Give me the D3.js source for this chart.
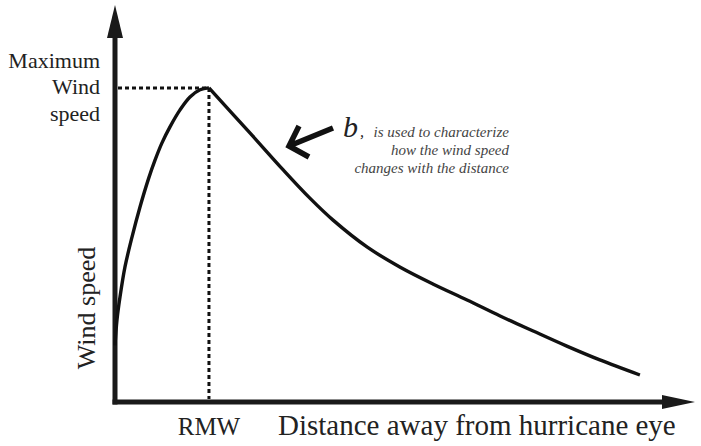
<!DOCTYPE html>
<html>
<head>
<meta charset="utf-8">
<script src="https://cdn.jsdelivr.net/npm/d3@7"></script>
<style>
  body { margin: 0; background: #fff; }
  svg { display: block; }
  text { font-family: "Liberation Serif", "Times New Roman", serif; fill: #222; }
</style>
</head>
<body>
<svg id="chart"></svg>
<script>
// wind profile (distance / speed in relative units, max = 100)
const innerDist  = [0, 0.34, 0.86, 1.72, 2.93, 4.31, 5.8, 6.9, 8.1, 9.48, 11.21, 12.93, 14.66, 16.2];
const innerSpeed = [18, 26.1, 33.4, 43.0, 52.5, 62.1, 71.2, 77.0, 82.5, 87.6, 93.0, 97.1, 99.4, 100];
const outerDist  = [16.2, 23.3, 29.0, 33.6, 37.6, 43.5, 49.1, 54.8, 60.7, 66.4, 72.1, 77.9, 83.6, 90.5];
const outerSpeed = [100, 85.6, 73.9, 64.9, 57.9, 49.3, 43.0, 37.6, 32.5, 27.4, 22.6, 17.8, 13.4, 8.6];

const rmw = 16.2;
const maxSpeed = 100;

const maxLabel = ["Maximum", "Wind", "speed"];
const noteLines = ["is used to characterize", "how the wind speed", "changes with the distance"];

const width = 701, height = 446;

const svg = d3.select("#chart").attr("width", width).attr("height", height);

const x = d3.scaleLinear().domain([0, 100]).range([115, 695]);
const y = d3.scaleLinear().domain([0, 126.4]).range([402, 5]);

const axisColor = "#1a1a1a";

// axes with arrow heads
svg.append("line")
  .attr("x1", x(0)).attr("x2", x(0))
  .attr("y1", y(0) + 2.5).attr("y2", y(126.4) + 30)
  .attr("stroke", axisColor).attr("stroke-width", 5);
svg.append("path")
  .attr("d", `M${x(0)},${y(126.4)} L${x(0) - 8},${y(126.4) + 33} L${x(0) + 8},${y(126.4) + 33} Z`)
  .attr("fill", axisColor);

svg.append("line")
  .attr("x1", x(0) - 2.5).attr("x2", x(100) - 30)
  .attr("y1", y(0)).attr("y2", y(0))
  .attr("stroke", axisColor).attr("stroke-width", 5);
svg.append("path")
  .attr("d", `M${x(100)},${y(0)} L${x(100) - 33},${y(0) - 7} L${x(100) - 33},${y(0) + 7} Z`)
  .attr("fill", axisColor);

// dashed guides to the peak
svg.append("line")
  .attr("x1", x(0) + 3).attr("x2", x(rmw))
  .attr("y1", y(maxSpeed)).attr("y2", y(maxSpeed))
  .attr("stroke", "#111").attr("stroke-width", 3).attr("stroke-dasharray", "4,3");
svg.append("line")
  .attr("x1", x(rmw)).attr("x2", x(rmw))
  .attr("y1", y(maxSpeed)).attr("y2", y(0) - 3)
  .attr("stroke", "#111").attr("stroke-width", 3).attr("stroke-dasharray", "4,3");

// profile
const line = d3.line()
  .x(d => x(d[0]))
  .y(d => y(d[1]))
  .curve(d3.curveCatmullRom);

[[innerDist, innerSpeed], [outerDist, outerSpeed]].forEach(([ds, vs]) => {
  svg.append("path")
    .datum(ds.map((d, i) => [d, vs[i]]))
    .attr("d", line)
    .attr("fill", "none")
    .attr("stroke", "#111")
    .attr("stroke-width", 3.4)
    .attr("stroke-linejoin", "miter");
});

// labels
svg.selectAll("text.max")
  .data(maxLabel)
  .join("text")
  .attr("class", "max")
  .attr("x", 100)
  .attr("y", (d, i) => y(maxSpeed) - 20 + i * 26.5)
  .attr("text-anchor", "end")
  .style("font-size", "22px")
  .text(d => d);

svg.append("text")
  .attr("transform", `translate(95,308) rotate(-90)`)
  .attr("text-anchor", "middle")
  .style("font-size", "26px")
  .text("Wind speed");

svg.append("text")
  .attr("x", x(rmw)).attr("y", 435)
  .attr("text-anchor", "middle")
  .style("font-size", "25px")
  .text("RMW");

svg.append("text")
  .attr("x", 278).attr("y", 435)
  .style("font-size", "29px")
  .text("Distance away from hurricane eye");

// annotation arrow for b
const tip = [289, 146];
svg.append("path")
  .attr("d", `M${tip[0] + 44},${tip[1] - 18} L${tip[0]},${tip[1]} M${tip[0] + 10},${tip[1] - 20} L${tip[0]},${tip[1]} L${tip[0] + 20},${tip[1] + 11}`)
  .attr("fill", "none")
  .attr("stroke", "#111")
  .attr("stroke-width", 5.5)
  .attr("stroke-linejoin", "miter");

svg.append("text")
  .attr("x", 343).attr("y", 137)
  .style("font-size", "30px")
  .style("font-style", "italic")
  .text("b");
svg.append("text")
  .attr("x", 360).attr("y", 137)
  .style("font-size", "16px")
  .style("font-style", "italic")
  .text(",");

svg.selectAll("text.note")
  .data(noteLines)
  .join("text")
  .attr("class", "note")
  .attr("x", 509)
  .attr("y", (d, i) => 137 + i * 18)
  .attr("text-anchor", "end")
  .style("font-size", "15px")
  .style("font-style", "italic")
  .style("fill", "#444")
  .text(d => d);
</script>
</body>
</html>
